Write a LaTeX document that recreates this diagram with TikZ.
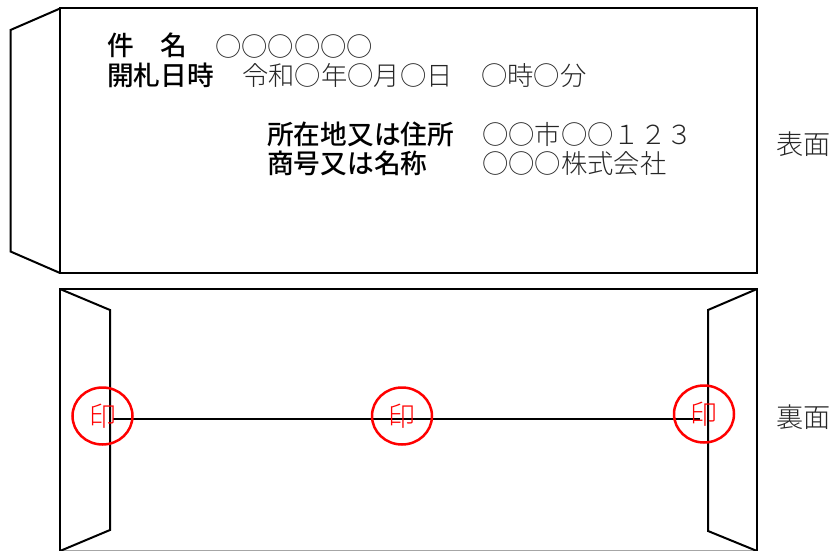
\documentclass[tikz,border=0pt]{standalone}
\usepackage{fontspec}
\setmainfont{Noto Sans CJK JP}[BoldFont={Noto Sans CJK JP Medium}]
\newfontfamily\lightjp{Noto Sans CJK JP Light}
\usetikzlibrary{shapes.geometric}
\tikzset{
  outline/.style={draw=black,line width=2pt,line join=miter},
  seal/.style={ellipse,draw=red,line width=2.5pt,minimum width=60pt,minimum height=57pt,inner sep=0pt,text=red,font=\lightjp\fontsize{27}{27}\selectfont},
  plainline/.style={font=\lightjp\fontsize{26.3}{26.3}\selectfont,inner sep=0pt,anchor=base west,text=black!85},
  sideline/.style={plainline,font=\lightjp\fontsize{27.2}{27.2}\selectfont},
  boldline/.style={font=\fontsize{26.7}{26.7}\selectfont\bfseries,inner sep=0pt,anchor=base west},
}
\begin{document}
\begin{tikzpicture}[x=1pt,y=-1pt]
\useasboundingbox (0,0) rectangle (833,551);
\coordinate (fTL) at (60,8.5);
\coordinate (fTR) at (756.5,8.5);
\coordinate (fBR) at (756.5,273);
\coordinate (fBL) at (60,273);
\coordinate (fFlapT) at (10.5,30);
\coordinate (fFlapB) at (10.5,251.5);
\draw[outline] (fTL) -- (fTR) -- (fBR) -- (fBL) -- cycle;
\draw[outline] (fTL) -- (fFlapT) -- (fFlapB) -- (fBL);
\node[boldline] (t1a) at (107,56) {件};
\node[boldline] (t1b) at (160,56) {名};
\node[plainline] (t1c) at (215,56.5) {○○○○○○};
\node[boldline] (t2a) at (107,85) {開札日時};
\node[plainline] (t2b) at (242,85) {令和○年○月○日};
\node[plainline] (t2c) at (481,85) {○時○分};
\node[boldline] (t3a) at (267,144.5) {所在地又は住所};
\node[plainline] (t3b) at (482,144.5) {○○市○○１２３};
\node[boldline] (t4a) at (267,173) {商号又は名称};
\node[plainline] (t4b) at (482,173) {○○○株式会社};
\node[sideline] (front) at (776,154) {表面};
\coordinate (bTL) at (60,289);
\coordinate (bTR) at (757,289);
\coordinate (bBR) at (757,551);
\coordinate (bBL) at (60,551);
\coordinate (lT) at (110,310);
\coordinate (lB) at (110,530);
\coordinate (rT) at (708,310);
\coordinate (rB) at (708,531);
\draw[black!35,line width=0.8pt] (bBL) ++(0,-0.6) -- ([yshift=0.6pt]bBR);
\draw[outline] (bBL) -- (bTL) -- (bTR) -- (bBR);
\draw[outline] (bTL) -- (lT) -- (lB) -- (bBL);
\draw[outline] (bTR) -- (rT) -- (rB) -- (bBR);
\coordinate (hL) at (113,419);
\coordinate (hR) at (700,419);
\draw[outline] (hL) -- (hR);
\node[seal] (s2) at (402,416) {印};
\node[seal] (s1) at (102.5,416) {印};
\node[seal] (s3) at (704,414) {印};
\node[sideline] (back) at (776,427) {裏面};
\end{tikzpicture}
\end{document}
